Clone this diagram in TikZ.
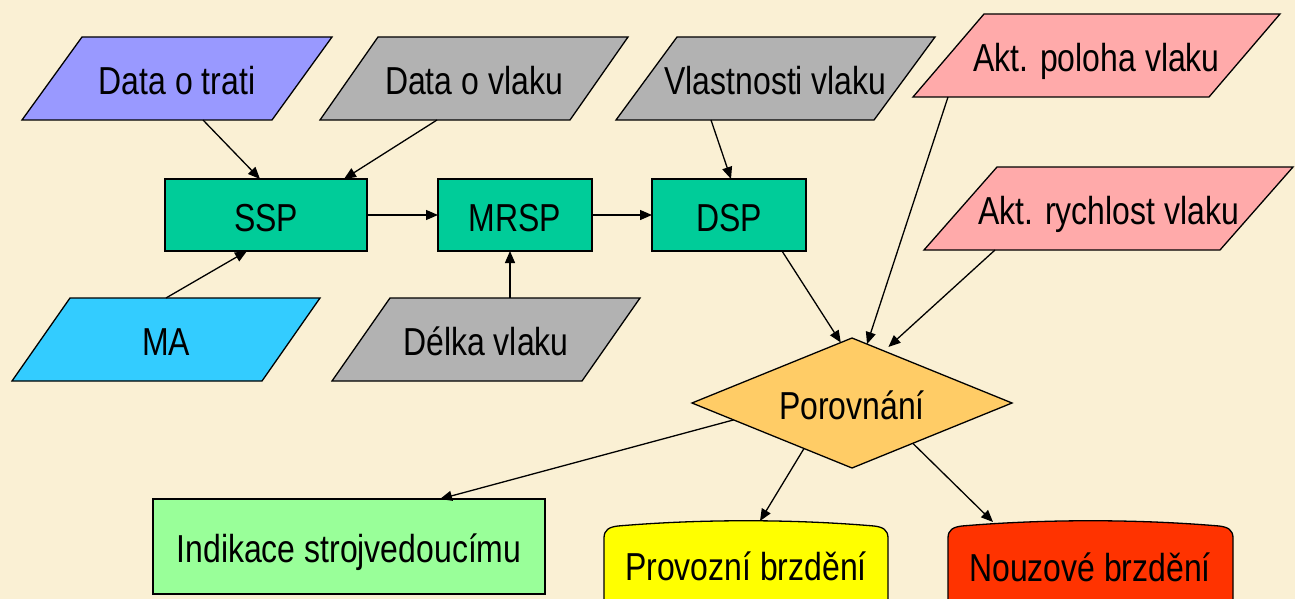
\documentclass[tikz,border=0pt]{standalone}
\usepackage{fontspec}
\setmainfont{Liberation Sans}[FakeStretch=0.82]
\usetikzlibrary{shapes.geometric,arrows.meta,calc}
\definecolor{bg}{RGB}{250,240,212}
\definecolor{cTrati}{RGB}{153,153,255}
\definecolor{cGray}{RGB}{178,178,178}
\definecolor{cPink}{RGB}{255,170,170}
\definecolor{cTeal}{RGB}{0,204,153}
\definecolor{cCyan}{RGB}{51,204,255}
\definecolor{cOrange}{RGB}{255,204,102}
\definecolor{cGreen}{RGB}{153,255,153}
\definecolor{cYellow}{RGB}{255,255,0}
\definecolor{cRed}{RGB}{255,51,0}
% #1 name, #2 fill, #3 centre x, #4 centre y, #5 width, #6 skew, #7 text
\newcommand\pgram[7]{%
  \draw[outline, fill=#2] ({#3-#5/2-#6/2},{#4+41.5}) -- ++(#5,0) -- ++(#6,-83) -- ++(-#5,0) -- cycle;
  \node[lbl, minimum width=#5pt, minimum height=83pt] (#1) at (#3,#4) {#7};}
\begin{document}
\begin{tikzpicture}[x=1pt, y=-1pt,
  outline/.style={draw=black, line width=1.3pt, line join=miter},
  lbl/.style={inner sep=0pt, outer sep=0pt, text height=32pt, text depth=0pt, font=\fontsize{39}{45}\selectfont},
  box/.style={lbl, outline},
  arr/.style={draw=black, line width=1.3pt, -{Triangle[length=12pt,width=10pt]}}]
\useasboundingbox (0,0) rectangle (1295,599);
\fill[bg] (0,0) rectangle (1295,599);
\clip (0,0) rectangle (1295,599);

% input parallelograms
\pgram{trati}{cTrati}{177}{78.5}{250}{60}{Data o trati}
\pgram{vlaku}{cGray}{474}{78.5}{250}{58}{Data o vlaku}
\pgram{vlast}{cGray}{775.5}{78.5}{258}{61}{Vlastnosti vlaku}
\pgram{poloha}{cPink}{1096.5}{55.5}{296}{71}{Akt. poloha vlaku}
\pgram{rychl}{cPink}{1108.5}{208.5}{296}{73}{Akt. rychlost vlaku}
\pgram{ma}{cCyan}{166}{339.5}{250}{58}{MA}
\pgram{delka}{cGray}{486}{339.5}{250}{58}{Délka vlaku}

% process boxes
\node[box, fill=cTeal, minimum width=202pt, minimum height=72pt] (ssp) at (266,215) {SSP};
\node[box, fill=cTeal, minimum width=154pt, minimum height=72pt] (mrsp) at (515,215) {MRSP};
\node[box, fill=cTeal, minimum width=154pt, minimum height=72pt] (dsp) at (729,215) {DSP};

% decision
\node[lbl, outline, shape=diamond, fill=cOrange, aspect=2.46, minimum width=320pt, minimum height=130pt] (por) at (852,403) {Porovnání};

% outputs
\node[box, fill=cGreen, minimum width=392pt, minimum height=95pt] (ind) at (349,546.5) {Indikace strojvedoucímu};
\draw[outline, fill=cYellow] (604,640) -- (604,538) .. controls (604,530) and (609,527) .. (618,526)
  .. controls (700,519) and (792,519) .. (874,526) .. controls (883,527) and (888,530) .. (888,538) -- (888,640) -- cycle;
\node[lbl, minimum width=284pt, minimum height=86pt] (prov) at (746,564) {Provozní brzdění};
\draw[outline, fill=cRed] (948,640) -- (948,538) .. controls (948,530) and (953,527) .. (962,526)
  .. controls (1044,519) and (1137,519) .. (1219,526) .. controls (1228,527) and (1233,530) .. (1233,538) -- (1233,640) -- cycle;
\node[lbl, minimum width=285pt, minimum height=86pt] (nouz) at (1090,565) {Nouzové brzdění};

% connectors
\draw[arr] ([xshift=26pt]trati.south) -- ([xshift=-6pt]ssp.north);
\draw[arr] ([xshift=-37pt]vlaku.south) -- ([xshift=78pt]ssp.north);
\draw[arr] (ma.north) -- ([xshift=-19pt]ssp.south);
\draw[arr] (ssp.east) -- (mrsp.west);
\draw[arr] (mrsp.east) -- (dsp.west);
\draw[arr] ([xshift=24pt]delka.north) -- ([xshift=24pt]delka.north |- mrsp.south);
\draw[arr] ([xshift=-64.5pt]vlast.south) -- ([xshift=2pt]dsp.north);
\draw[arr] ([xshift=53pt]dsp.south) -- ($(por.north)!0.07!(por.west)$);
\draw[arr] ([xshift=-148.5pt]poloha.south) -- ($(por.north)!0.094!(por.east)$);
\draw[arr, shorten >=6pt] ([xshift=-113.5pt]rychl.south) -- ($(por.north)!0.2!(por.east)$);
\draw[arr] ($(por.west)!0.26!(por.south)$) -- ([xshift=91pt]ind.north);
\draw[arr] ($(por.west)!0.7!(por.south)$) -- ([xshift=14pt]prov.north);
\draw[arr] ($(por.south)!0.38!(por.east)$) -- ([xshift=-97pt]nouz.north);
\end{tikzpicture}
\end{document}
